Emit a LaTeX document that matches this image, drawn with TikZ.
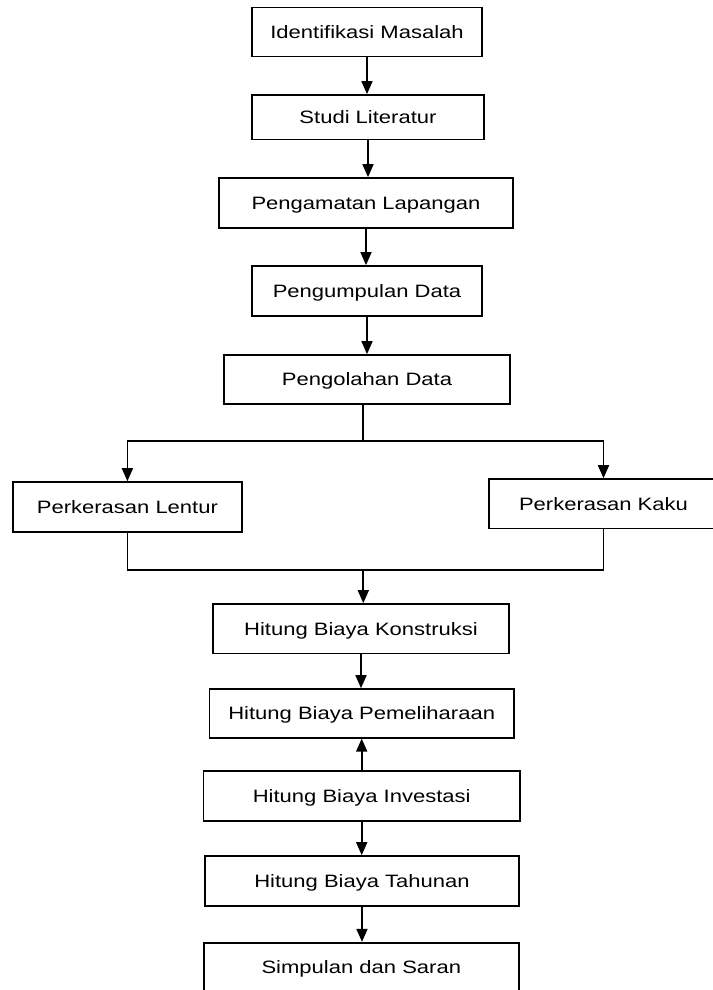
\documentclass[tikz,border=0pt]{standalone}
\usepackage{fontspec}
\newfontfamily\arialw{Liberation Sans}[FakeStretch=1.23]
\usetikzlibrary{arrows.meta}
\tikzset{
  box/.style={draw, line width=1.7pt, inner sep=0pt, align=center,
    font=\arialw\fontsize{17.9}{20}\selectfont, text height=12.8pt, text depth=0pt},
  conn/.style={line width=1.7pt},
  arr/.style={conn, -{Triangle[length=13pt,width=11pt]}}
}
\begin{document}
\begin{tikzpicture}[x=1pt,y=-1pt]
\useasboundingbox (0,0) rectangle (712,990);
\node[box, minimum width=230pt, minimum height=49pt] (b1) at (367,32) {Identifikasi Masalah};
\node[box, minimum width=232pt, minimum height=44.5pt] (b2) at (368,117.2) {Studi Literatur};
\node[box, minimum width=294pt, minimum height=50pt] (b3) at (366,203) {Pengamatan Lapangan};
\node[box, minimum width=230pt, minimum height=50pt] (b4) at (367,291) {Pengumpulan Data};
\node[box, minimum width=286pt, minimum height=49pt] (b5) at (367,379.5) {Pengolahan Data};
\node[box, minimum width=229.3pt, minimum height=49.7pt] (b6) at (127.4,506.9) {Perkerasan Lentur};
\node[box, minimum width=229pt, minimum height=49.3pt] (b7) at (603.5,503.7) {Perkerasan Kaku};
\node[box, minimum width=296.6pt, minimum height=49.3pt] (b8) at (361,628.7) {Hitung Biaya Konstruksi};
\node[box, minimum width=304.7pt, minimum height=48.7pt] (b9) at (361.7,713.4) {Hitung Biaya Pemeliharaan};
\node[box, minimum width=316.7pt, minimum height=49.7pt] (b10) at (361.7,795.9) {Hitung Biaya Investasi};
\node[box, minimum width=314pt, minimum height=49.7pt] (b11) at (362,880.9) {Hitung Biaya Tahunan};
\node[box, minimum width=314.7pt, minimum height=49.4pt] (b12) at (361.3,967.4) {Simpulan dan Saran};

\draw[arr] (b1.south) -- (b1.south |- b2.north);
\draw[arr] (b2.south) -- (b2.south |- b3.north);
\draw[arr] (b3.south) -- (b3.south |- b4.north);
\draw[arr] (b4.south) -- (b4.south |- b5.north);

\coordinate (s) at (363.3,440.7);
\draw[conn] (s |- b5.south) -- (s);
\draw[arr] (s) -| (b6.north);
\draw[arr] (s) -| (b7.north);

\coordinate (m) at (363.3,570);
\draw[conn] (b6.south) |- (m);
\draw[conn] (b7.south) |- (m);
\draw[arr] (m) -- (m |- b8.north);

\draw[arr] (b8.south) -- (b8.south |- b9.north);
\draw[arr] (b10.north) -- (b10.north |- b9.south);
\draw[arr] (b10.south) -- (b10.south |- b11.north);
\draw[arr] (b11.south) -- (b11.south |- b12.north);
\end{tikzpicture}
\end{document}
